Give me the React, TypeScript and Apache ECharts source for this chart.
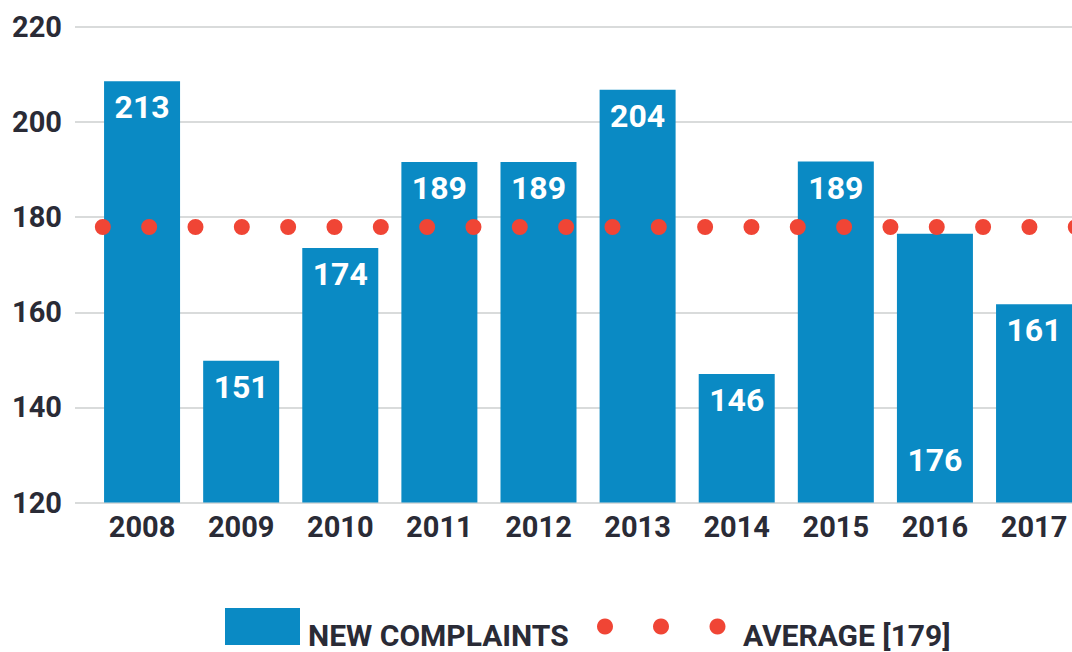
import React, { useEffect, useRef } from "react";
import * as echarts from "echarts";

const years = ["2008", "2009", "2010", "2011", "2012", "2013", "2014", "2015", "2016", "2017"];
// bar heights as drawn in the picture
const barHeights = [208.6, 149.8, 173.5, 191.6, 191.6, 206.8, 147.0, 191.7, 176.5, 161.7];
// numbers printed on the bars
const barLabels = [213, 151, 174, 189, 189, 204, 146, 189, 176, 161];
const labelAtBottom = ["2016"];
const averageLevel = 178;
const averageText = 179;
const yMin = 120;
const yMax = 220;
const yStep = 20;

const BLUE = "#0a8ac4";
const RED = "#f04535";
const TEXT = "#2a2b36";
const FONT = "Roboto, 'Noto Sans', sans-serif";

export default function App() {
  const ref = useRef<HTMLDivElement>(null);
  useEffect(() => {
    if (!ref.current) return;
    const chart = echarts.init(ref.current, undefined, { renderer: "svg" });
    const barData = years.map((y, i) => {
      const item: any = { value: barHeights[i], labelText: barLabels[i] };
      if (labelAtBottom.includes(y)) {
        item.label = { position: "insideBottom", distance: 27 };
      }
      return item;
    });
    chart.setOption({
      animation: false,
      backgroundColor: "#ffffff",
      textStyle: { fontFamily: FONT },
      grid: [
        { left: 92.5, right: 3.4, top: 27, bottom: 149.5 },
        { left: 75, right: 15, top: 27, bottom: 149.5 },
      ],
      xAxis: [
        {
          type: "category",
          data: years,
          gridIndex: 0,
          axisLine: { show: false },
          axisTick: { show: false },
          axisLabel: {
            margin: 10,
            fontSize: 29,
            fontWeight: 700,
            color: TEXT,
            fontFamily: FONT,
          },
        },
        { type: "value", gridIndex: 1, min: 0, max: 1, show: false },
      ],
      yAxis: [
        { type: "value", gridIndex: 0, min: yMin, max: yMax, interval: yStep, show: false },
        {
          type: "value",
          gridIndex: 1,
          min: yMin,
          max: yMax,
          interval: yStep,
          axisLine: { show: false },
          axisTick: { show: false },
          axisLabel: {
            margin: 13,
            fontSize: 29,
            fontWeight: 700,
            color: TEXT,
            fontFamily: FONT,
          },
          splitLine: { show: true, lineStyle: { color: "#d9dbdb", width: 2 } },
        },
      ],
      series: [
        {
          type: "bar",
          name: "NEW COMPLAINTS",
          xAxisIndex: 0,
          yAxisIndex: 0,
          barWidth: 76,
          data: barData,
          itemStyle: { color: BLUE },
          label: {
            show: true,
            position: "insideTop",
            distance: 10,
            color: "#ffffff",
            fontSize: 32,
            fontWeight: 700,
            fontFamily: FONT,
            formatter: (p: any) => String(p.data.labelText),
          },
          z: 2,
        },
        {
          type: "line",
          name: "AVERAGE [" + averageText + "]",
          xAxisIndex: 0,
          yAxisIndex: 0,
          data: years.map(() => averageLevel),
          symbol: "none",
          lineStyle: { opacity: 0 },
          silent: true,
          z: 5,
          markLine: {
            silent: true,
            symbol: "none",
            label: { show: false },
            z: 5,
            lineStyle: {
              color: RED,
              width: 16,
              type: [0, 46.33],
              cap: "round",
              dashOffset: 36.1,
              opacity: 1,
            },
            data: [{ yAxis: averageLevel }],
          },
        },
      ],
      graphic: [
        { type: "rect", shape: { x: 225, y: 608, width: 75, height: 37 }, style: { fill: BLUE } },
        {
          type: "text",
          x: 308,
          y: 635,
          style: {
            text: "NEW COMPLAINTS",
            fill: TEXT,
            font: "700 30px " + FONT,
            verticalAlign: "middle",
            align: "left",
          },
        },
        { type: "circle", shape: { cx: 605, cy: 626.5, r: 8 }, style: { fill: RED } },
        { type: "circle", shape: { cx: 661, cy: 626.5, r: 8 }, style: { fill: RED } },
        { type: "circle", shape: { cx: 717.5, cy: 626.5, r: 8 }, style: { fill: RED } },
        {
          type: "text",
          x: 743,
          y: 635,
          style: {
            text: "AVERAGE [" + averageText + "]",
            fill: TEXT,
            font: "700 30px " + FONT,
            verticalAlign: "middle",
            align: "left",
          },
        },
      ],
    });
    return () => chart.dispose();
  }, []);
  return (
    <div
      style={{ position: "fixed", left: 0, top: 0, width: 1072, height: 652, overflow: "hidden" }}
    >
      <div ref={ref} style={{ width: 1087, height: 652 }} />
    </div>
  );
}
